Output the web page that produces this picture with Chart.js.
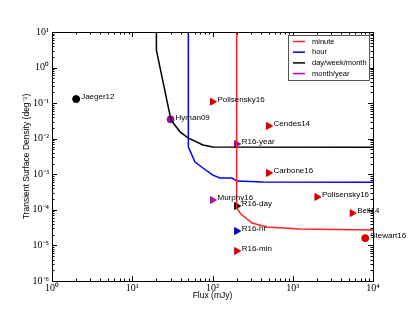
<!DOCTYPE html>
<html>
<head>
<meta charset="utf-8">
<script src="https://cdn.jsdelivr.net/npm/chart.js@4.4.1/dist/chart.umd.min.js"></script>
<style>
  html, body { margin: 0; padding: 0; background: #fff; }
</style>
</head>
<body>
<canvas id="chart" width="415" height="312"></canvas>
<script>
// detection limit curves
const minuteFlux = [200, 200, 226, 311, 478, 1230, 10000]
const minuteDensity = [10, 1.13e-4, 7.6e-5, 4.27e-5, 3.3e-5, 2.9e-5, 2.7e-5]

const hourFlux = [50, 50, 60.5, 76, 101, 124, 175, 202, 426, 10000]
const hourDensity = [10, 5.85e-3, 2.2e-3, 1.5e-3, 9.5e-4, 7.85e-4, 7.85e-4, 6.45e-4, 6.07e-4, 6.0e-4]

const dayFlux = [20, 20, 27, 30.4, 39.4, 49.5, 76, 101, 10000]
const dayDensity = [10, 3.1, 0.12, 0.034, 0.0155, 0.0105, 6.65e-3, 5.85e-3, 5.8e-3]

// surveys
const surveyNames = ['Jaeger12', 'Hyman09', 'Polisensky16', 'Cendes14', 'R16-year', 'Carbone16',
    'Murphy16', 'R16-day', 'R16-hr', 'R16-min', 'Polisensky16', 'Bell14', 'Stewart16']
const surveyFlux = [2, 30, 100, 500, 200, 500, 100, 200, 200, 200, 2000, 5500, 8000]
const surveyDensity = [0.13, 0.035, 0.11, 0.0228, 7.1e-3, 1.09e-3, 1.89e-4, 1.28e-4, 2.54e-5, 7e-6, 2.3e-4, 8.1e-5, 1.6e-5]
const surveyShape = ['circle', 'circle', 'tri', 'tri', 'tri', 'tri', 'tri', 'tri', 'tri', 'tri', 'tri', 'tri', 'circle']
const surveyColor = ['#000000', '#b000b0', '#d40000', '#d40000', '#8a00b8', '#d40000', '#a020a0',
    '#000000', '#0000cc', '#d40000', '#d40000', '#d40000', '#e00000']

const xTicks = [1, 10, 100, 1000, 10000]
const yTicks = [1e-6, 1e-5, 1e-4, 1e-3, 1e-2, 1e-1, 1, 10]

const sup = { '-': '⁻', '0': '⁰', '1': '¹', '2': '²', '3': '³', '4': '⁴', '5': '⁵', '6': '⁶' }
const pow10 = v => '10' + String(Math.round(Math.log10(v))).split('').map(c => sup[c]).join('')

const toXY = (xs, ys) => xs.map((x, i) => ({ x: x, y: ys[i] }))

const tickFont = { family: 'Liberation Serif', size: 10 }
const sansFont = { family: 'Liberation Sans', size: 8.5 }

// inward ticks on all four sides plus the frame
const frame = {
    id: 'frame',
    afterDatasetsDraw(chart) {
        const { ctx, chartArea: a, scales: { x, y } } = chart
        ctx.save()
        ctx.strokeStyle = '#000'
        ctx.lineWidth = 1
        ctx.beginPath()
        for (let e = 0; e < 4; e++) {
            for (let m = 1; m <= 10; m++) {
                const px = Math.round(x.getPixelForValue(m * Math.pow(10, e))) + 0.5
                const len = (m === 1 || m === 10) ? 5 : 2.5
                ctx.moveTo(px, a.bottom); ctx.lineTo(px, a.bottom - len)
                ctx.moveTo(px, a.top); ctx.lineTo(px, a.top + len)
            }
        }
        for (let e = -6; e < 1; e++) {
            for (let m = 1; m <= 10; m++) {
                const py = Math.round(y.getPixelForValue(m * Math.pow(10, e))) + 0.5
                const len = (m === 1 || m === 10) ? 5 : 2.5
                ctx.moveTo(a.left, py); ctx.lineTo(a.left + len, py)
                ctx.moveTo(a.right, py); ctx.lineTo(a.right - len, py)
            }
        }
        ctx.stroke()
        ctx.strokeRect(Math.round(a.left) + 0.5, Math.round(a.top) + 0.5,
            Math.round(a.right - a.left), Math.round(a.bottom - a.top))
        ctx.restore()
    }
}

// survey names next to markers
const names = {
    id: 'names',
    afterDatasetsDraw(chart) {
        const { ctx } = chart
        const meta = chart.getDatasetMeta(4)
        ctx.save()
        ctx.font = '8px "Liberation Sans"'
        ctx.fillStyle = '#000'
        ctx.textBaseline = 'middle'
        meta.data.forEach((el, i) => {
            ctx.fillText(surveyNames[i], el.x + 5, el.y - 2)
        })
        ctx.restore()
    }
}

// legend box inside the axes, upper right
const boxLegend = {
    id: 'boxLegend',
    afterDraw(chart) {
        const { ctx, chartArea: a } = chart
        const sets = chart.data.datasets.slice(0, 4)
        const w = 81, h = 45
        const x0 = Math.round(a.right) - 4 - w, y0 = Math.round(a.top) + 3
        ctx.save()
        ctx.fillStyle = '#fff'
        ctx.fillRect(x0, y0, w, h)
        ctx.strokeStyle = '#555'
        ctx.lineWidth = 1
        ctx.strokeRect(x0 + 0.5, y0 + 0.5, w, h)
        ctx.font = '7.5px "Liberation Sans"'
        ctx.textBaseline = 'middle'
        sets.forEach((ds, i) => {
            const yy = y0 + 6.5 + i * 10.7
            ctx.strokeStyle = ds.borderColor
            ctx.lineWidth = 1.5
            ctx.beginPath()
            ctx.moveTo(x0 + 5, yy); ctx.lineTo(x0 + 17, yy)
            ctx.stroke()
            ctx.fillStyle = '#000'
            ctx.fillText(ds.label, x0 + 24, yy)
        })
        ctx.restore()
    }
}

new Chart(document.getElementById('chart'), {
    type: 'scatter',
    data: {
        datasets: [
            { label: 'minute', data: toXY(minuteFlux, minuteDensity), showLine: true,
              borderColor: '#ff2020', borderWidth: 1.5, pointRadius: 0 },
            { label: 'hour', data: toXY(hourFlux, hourDensity), showLine: true,
              borderColor: '#0000ff', borderWidth: 1.5, pointRadius: 0 },
            { label: 'day/week/month', data: toXY(dayFlux, dayDensity), showLine: true,
              borderColor: '#000000', borderWidth: 1.5, pointRadius: 0 },
            { label: 'month/year', data: [], showLine: true,
              borderColor: '#bf00bf', borderWidth: 1.5, pointRadius: 0 },
            { label: 'surveys', data: toXY(surveyFlux, surveyDensity),
              pointStyle: surveyShape.map(s => s === 'tri' ? 'triangle' : 'circle'),
              rotation: surveyShape.map(s => s === 'tri' ? 90 : 0),
              pointRadius: surveyShape.map(s => s === 'tri' ? 4 : 3.5),
              backgroundColor: surveyColor, borderColor: surveyColor, borderWidth: 1 }
        ]
    },
    options: {
        responsive: false,
        animation: false,
        devicePixelRatio: 1,
        layout: { padding: { left: 0, right: 42, top: 32, bottom: 0 } },
        plugins: { legend: { display: false }, tooltip: { enabled: false } },
        scales: {
            x: {
                type: 'logarithmic', min: 1, max: 10000,
                grid: { display: false, drawTicks: false },
                border: { display: false },
                afterBuildTicks: s => { s.ticks = xTicks.map(v => ({ value: v })) },
                afterFit: s => { s.height = 31 },
                ticks: { callback: v => pow10(v), font: tickFont, color: '#000',
                         padding: 1, maxRotation: 0, autoSkip: false },
                title: { display: true, text: 'Flux (mJy)', font: sansFont, color: '#000',
                         padding: { top: 0, bottom: 11 } }
            },
            y: {
                type: 'logarithmic', min: 1e-6, max: 10,
                grid: { display: false, drawTicks: false },
                border: { display: false },
                afterBuildTicks: s => { s.ticks = yTicks.map(v => ({ value: v })) },
                afterFit: s => { s.width = 52 },
                ticks: { callback: v => pow10(v), font: tickFont, color: '#000',
                         padding: 3, autoSkip: false },
                title: { display: true, text: 'Transient Surface Density (deg⁻²)', font: sansFont,
                         color: '#000', padding: { top: 22, bottom: 0 } }
            }
        }
    },
    plugins: [frame, names, boxLegend]
})
</script>
</body>
</html>
